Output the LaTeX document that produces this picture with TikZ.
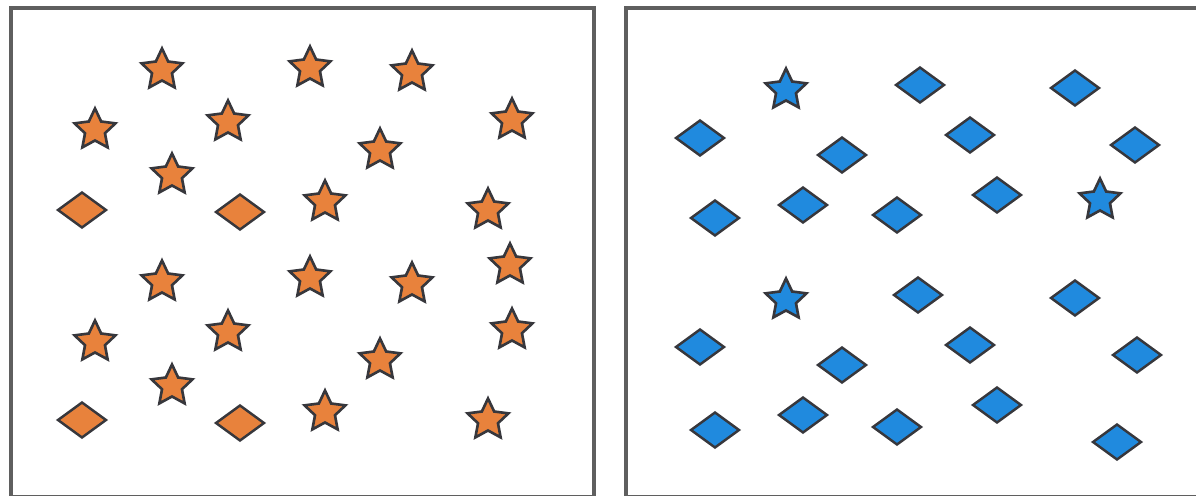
\documentclass[tikz,border=0pt]{standalone}
\usetikzlibrary{shapes.geometric}
\definecolor{orangefill}{RGB}{232,130,60}
\definecolor{bluefill}{RGB}{32,138,222}
\definecolor{shapeline}{RGB}{55,55,60}
\definecolor{panelline}{RGB}{95,95,95}
\tikzset{
  starmark/.style={star, star points=5, star point ratio=2.05, draw=shapeline,
                   line width=1.5pt, inner sep=0pt, minimum size=0.86cm},
  diamark/.style={diamond, draw=shapeline, line width=1.4pt, inner sep=0pt,
                  minimum width=0.98cm, minimum height=0.72cm},
  orng/.style={fill=orangefill},
  blu/.style={fill=bluefill},
  panel/.style={draw=panelline, line width=2.2pt},
}

\begin{document}
\begin{tikzpicture}[x=0.02cm, y=-0.02cm]
  \useasboundingbox (0,0) rectangle (1196,496);

  %% panels
  \draw[panel] (11,8) rectangle (594,497);
  \draw[panel] (626,8) rectangle (1200,497);

  %% left panel: orange, upper half
  \node[starmark, orng] (l1) at (162,70) {};
  \node[starmark, orng] (l2) at (310,68) {};
  \node[starmark, orng] (l3) at (412,72) {};
  \node[starmark, orng] (l4) at (95,130) {};
  \node[starmark, orng] (l5) at (228,122) {};
  \node[starmark, orng] (l6) at (512,120) {};
  \node[starmark, orng] (l7) at (380,150) {};
  \node[starmark, orng] (l8) at (172,175) {};
  \node[diamark, orng] (l9) at (82,210) {};
  \node[diamark, orng] (l10) at (240,212) {};
  \node[starmark, orng] (l11) at (325,202) {};
  \node[starmark, orng] (l12) at (488,210) {};

  %% left panel: orange, lower half
  \node[starmark, orng] (l13) at (162,282) {};
  \node[starmark, orng] (l14) at (310,278) {};
  \node[starmark, orng] (l15) at (412,284) {};
  \node[starmark, orng] (l16) at (510,265) {};
  \node[starmark, orng] (l17) at (95,342) {};
  \node[starmark, orng] (l18) at (228,332) {};
  \node[starmark, orng] (l19) at (512,330) {};
  \node[starmark, orng] (l20) at (380,360) {};
  \node[starmark, orng] (l21) at (172,386) {};
  \node[diamark, orng] (l22) at (82,420) {};
  \node[diamark, orng] (l23) at (240,423) {};
  \node[starmark, orng] (l24) at (325,412) {};
  \node[starmark, orng] (l25) at (488,420) {};

  %% right panel: blue, upper half
  \node[starmark, blu] (r1) at (786,90) {};
  \node[diamark, blu] (r2) at (920,85) {};
  \node[diamark, blu] (r3) at (1075,88) {};
  \node[diamark, blu] (r4) at (700,138) {};
  \node[diamark, blu] (r5) at (842,155) {};
  \node[diamark, blu] (r6) at (970,135) {};
  \node[diamark, blu] (r7) at (1135,145) {};
  \node[diamark, blu] (r8) at (715,218) {};
  \node[diamark, blu] (r9) at (803,205) {};
  \node[diamark, blu] (r10) at (897,215) {};
  \node[diamark, blu] (r11) at (997,195) {};
  \node[starmark, blu] (r12) at (1100,200) {};

  %% right panel: blue, lower half
  \node[starmark, blu] (r13) at (786,300) {};
  \node[diamark, blu] (r14) at (918,295) {};
  \node[diamark, blu] (r15) at (1075,298) {};
  \node[diamark, blu] (r16) at (700,347) {};
  \node[diamark, blu] (r17) at (842,365) {};
  \node[diamark, blu] (r18) at (970,345) {};
  \node[diamark, blu] (r19) at (1137,355) {};
  \node[diamark, blu] (r20) at (715,430) {};
  \node[diamark, blu] (r21) at (803,415) {};
  \node[diamark, blu] (r22) at (897,427) {};
  \node[diamark, blu] (r23) at (997,405) {};
  \node[diamark, blu] (r24) at (1117,442) {};
\end{tikzpicture}
\end{document}
